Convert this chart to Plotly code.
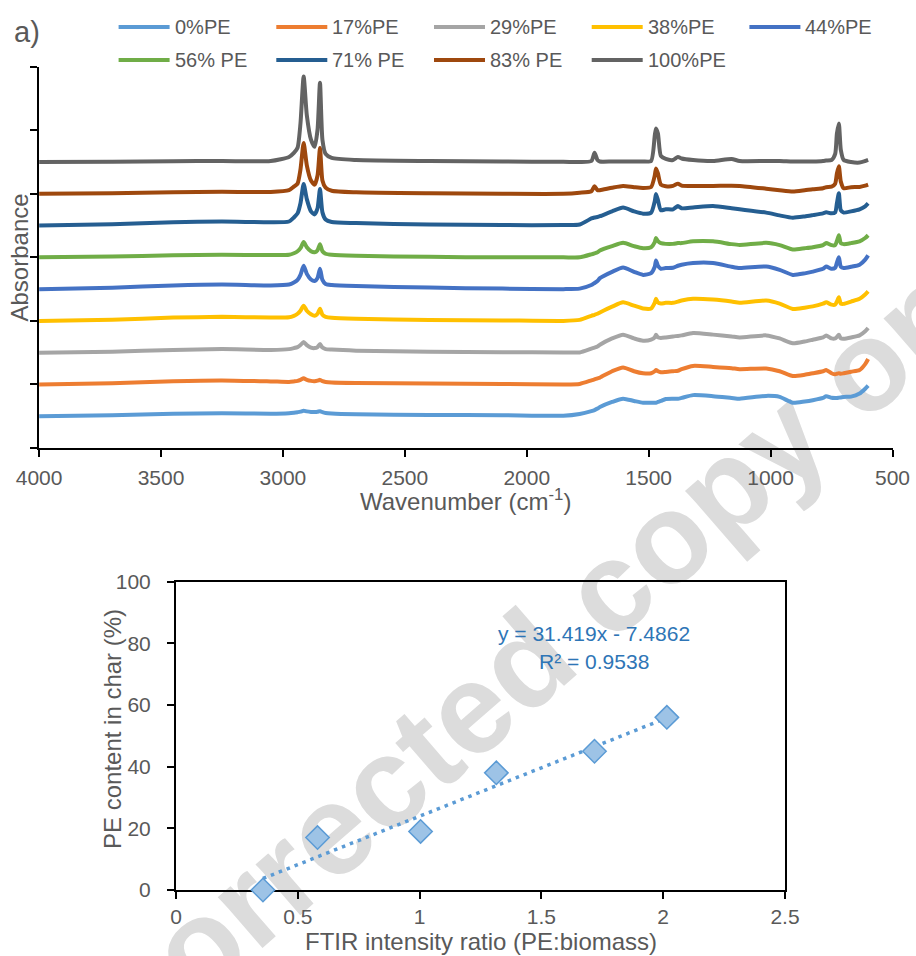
import plotly.graph_objects as go

# ---------------- data: FTIR spectra (panel a) ----------------
WAVENUMBER = [4000, 3700, 3450, 3250, 3050, 2975, 2955, 2940, 2928, 2915,
              2902, 2885, 2870, 2858, 2848, 2838, 2825, 2800, 2700, 2400,
              2100, 1850, 1783, 1735, 1722, 1710, 1700, 1650, 1605, 1560,
              1523, 1490, 1475, 1470, 1462, 1450, 1430, 1400, 1380, 1365,
              1318, 1236, 1160, 1127, 1018, 963, 909, 860, 827, 785,
              772, 750, 735, 728, 720, 712, 700, 670, 635, 612,
              600]

SERIES_NAMES = ["0%PE", "17%PE", "29%PE", "38%PE", "44%PE",
                "56% PE", "71% PE", "83% PE", "100%PE"]

ABS_0 = [0.000, 0.007, 0.019, 0.024, 0.020, 0.024, 0.028, 0.032, 0.036, 0.044,
         0.038, 0.034, 0.034, 0.036, 0.040, 0.032, 0.026, 0.022, 0.016, 0.010,
         0.008, 0.004, 0.018, 0.040, 0.048, 0.060, 0.072, 0.112, 0.138, 0.120,
         0.106, 0.106, 0.106, 0.106, 0.112, 0.120, 0.136, 0.138, 0.138, 0.144,
         0.166, 0.158, 0.144, 0.138, 0.160, 0.152, 0.106, 0.116, 0.126, 0.144,
         0.158, 0.146, 0.144, 0.144, 0.146, 0.148, 0.152, 0.154, 0.178, 0.216,
         0.240]
ABS_17 = [0.000, 0.010, 0.026, 0.032, 0.024, 0.020, 0.024, 0.028, 0.036, 0.048,
          0.036, 0.028, 0.026, 0.030, 0.036, 0.026, 0.020, 0.016, 0.012, 0.008,
          0.004, 0.000, 0.004, 0.032, 0.040, 0.048, 0.054, 0.104, 0.134, 0.104,
          0.088, 0.088, 0.104, 0.114, 0.104, 0.096, 0.098, 0.104, 0.108, 0.120,
          0.146, 0.138, 0.128, 0.120, 0.126, 0.104, 0.066, 0.076, 0.088, 0.104,
          0.114, 0.088, 0.080, 0.084, 0.088, 0.084, 0.088, 0.100, 0.114, 0.160,
          0.200]
ABS_29 = [0.000, 0.008, 0.022, 0.028, 0.022, 0.028, 0.036, 0.044, 0.060, 0.084,
          0.060, 0.040, 0.036, 0.044, 0.068, 0.040, 0.028, 0.024, 0.016, 0.008,
          0.004, 0.002, 0.002, 0.032, 0.040, 0.048, 0.062, 0.112, 0.142, 0.112,
          0.094, 0.102, 0.120, 0.142, 0.120, 0.116, 0.120, 0.128, 0.132, 0.136,
          0.154, 0.142, 0.128, 0.120, 0.136, 0.112, 0.074, 0.088, 0.102, 0.120,
          0.136, 0.112, 0.112, 0.124, 0.142, 0.112, 0.110, 0.120, 0.136, 0.168,
          0.194]
ABS_38 = [0.000, 0.010, 0.026, 0.032, 0.026, 0.028, 0.040, 0.056, 0.080, 0.120,
          0.080, 0.052, 0.040, 0.056, 0.096, 0.048, 0.032, 0.024, 0.016, 0.008,
          0.004, 0.000, 0.008, 0.040, 0.048, 0.056, 0.066, 0.112, 0.146, 0.120,
          0.098, 0.098, 0.144, 0.174, 0.144, 0.136, 0.142, 0.142, 0.152, 0.160,
          0.174, 0.168, 0.152, 0.142, 0.160, 0.136, 0.094, 0.104, 0.114, 0.136,
          0.146, 0.128, 0.128, 0.152, 0.186, 0.136, 0.134, 0.152, 0.174, 0.208,
          0.232]
ABS_44 = [0.000, 0.011, 0.029, 0.036, 0.029, 0.036, 0.052, 0.072, 0.112, 0.184,
          0.120, 0.076, 0.064, 0.088, 0.160, 0.072, 0.040, 0.032, 0.024, 0.012,
          0.004, 0.000, 0.004, 0.032, 0.048, 0.064, 0.086, 0.136, 0.170, 0.136,
          0.112, 0.126, 0.176, 0.226, 0.184, 0.160, 0.166, 0.168, 0.184, 0.192,
          0.206, 0.206, 0.176, 0.166, 0.178, 0.152, 0.112, 0.124, 0.138, 0.160,
          0.178, 0.160, 0.168, 0.208, 0.250, 0.176, 0.166, 0.176, 0.192, 0.232,
          0.266]
ABS_56 = [0.000, 0.006, 0.016, 0.020, 0.018, 0.020, 0.032, 0.048, 0.072, 0.120,
          0.080, 0.048, 0.040, 0.056, 0.104, 0.048, 0.028, 0.020, 0.012, 0.004,
          0.000, 0.000, 0.000, 0.024, 0.032, 0.040, 0.054, 0.088, 0.114, 0.088,
          0.072, 0.080, 0.120, 0.152, 0.128, 0.112, 0.106, 0.106, 0.112, 0.112,
          0.126, 0.126, 0.104, 0.098, 0.114, 0.096, 0.062, 0.072, 0.080, 0.096,
          0.112, 0.096, 0.096, 0.128, 0.174, 0.112, 0.104, 0.112, 0.126, 0.152,
          0.174]
ABS_71 = [0.000, 0.010, 0.026, 0.032, 0.026, 0.032, 0.064, 0.096, 0.176, 0.328,
          0.208, 0.112, 0.088, 0.136, 0.288, 0.104, 0.048, 0.028, 0.020, 0.008,
          0.004, 0.004, 0.008, 0.056, 0.064, 0.068, 0.074, 0.112, 0.142, 0.112,
          0.094, 0.102, 0.192, 0.248, 0.200, 0.120, 0.128, 0.128, 0.154, 0.136,
          0.142, 0.154, 0.136, 0.128, 0.102, 0.080, 0.062, 0.072, 0.082, 0.096,
          0.104, 0.096, 0.104, 0.176, 0.254, 0.120, 0.102, 0.112, 0.128, 0.152,
          0.174]
ABS_83 = [0.000, 0.005, 0.013, 0.016, 0.014, 0.028, 0.056, 0.080, 0.192, 0.400,
          0.224, 0.104, 0.072, 0.144, 0.360, 0.104, 0.048, 0.024, 0.012, 0.004,
          0.000, 0.000, 0.008, 0.020, 0.060, 0.028, 0.028, 0.048, 0.062, 0.052,
          0.046, 0.054, 0.144, 0.200, 0.160, 0.072, 0.060, 0.062, 0.080, 0.064,
          0.062, 0.062, 0.064, 0.062, 0.040, 0.028, 0.018, 0.028, 0.036, 0.044,
          0.052, 0.056, 0.080, 0.160, 0.216, 0.096, 0.044, 0.052, 0.054, 0.064,
          0.072]
ABS_100 = [0.000, 0.002, 0.006, 0.008, 0.008, 0.040, 0.072, 0.112, 0.304, 0.672,
           0.368, 0.176, 0.120, 0.256, 0.624, 0.176, 0.064, 0.032, 0.016, 0.008,
           0.004, 0.002, 0.000, 0.008, 0.072, 0.016, 0.004, 0.004, 0.004, 0.004,
           0.004, 0.008, 0.208, 0.264, 0.224, 0.048, 0.024, 0.016, 0.040, 0.028,
           0.016, 0.008, 0.024, 0.008, 0.008, 0.008, 0.004, 0.004, 0.004, 0.008,
           0.012, 0.016, 0.064, 0.224, 0.304, 0.096, 0.016, 0.000, -0.004, 0.008,
           0.016]

SPECTRA = [ABS_0, ABS_17, ABS_29, ABS_38, ABS_44, ABS_56, ABS_71, ABS_83, ABS_100]
STACK_STEP = 0.25   # vertical offset between stacked spectra

X_TICKS_TOP = [4000, 3500, 3000, 2500, 2000, 1500, 1000, 500]

# ---------------- data: calibration (panel b) ----------------
RATIO = [0.357, 0.581, 1.004, 1.315, 1.718, 2.015]
PE_CONTENT = [0, 17, 19, 38, 45, 56]
FIT_SLOPE = 31.419
FIT_INTERCEPT = -7.4862
FIT_R2 = 0.9538

# ---------------- styling ----------------
COLORS = ["#5B9BD5", "#ED7D31", "#A5A5A5", "#FFC000", "#4472C4",
          "#70AD47", "#255E91", "#9E480E", "#636363"]
FONT = "Liberation Sans, Arial, sans-serif"
GREY = "#595959"
W, H = 916, 956


def px(x):
    return x / W


def py(y):
    return 1 - y / H


fig = go.Figure()

for i, (name, vals, color) in enumerate(zip(SERIES_NAMES, SPECTRA, COLORS)):
    fig.add_trace(go.Scatter(
        x=WAVENUMBER, y=[v + STACK_STEP * (i + 1) for v in vals],
        mode="lines", name=name, showlegend=False,
        line=dict(color=color, width=4, shape="spline", smoothing=0.6),
        xaxis="x", yaxis="y", hoverinfo="skip"))

trend_x = [min(RATIO), max(RATIO)]
trend_y = [FIT_SLOPE * x + FIT_INTERCEPT for x in trend_x]
fig.add_trace(go.Scatter(
    x=trend_x, y=trend_y, mode="lines", showlegend=False,
    line=dict(color="#5B9BD5", width=3.5, dash="3.5px,5px"),
    xaxis="x2", yaxis="y2"))
fig.add_trace(go.Scatter(
    x=RATIO, y=PE_CONTENT, mode="markers", showlegend=False, cliponaxis=False,
    marker=dict(symbol="diamond", size=18, color="#9DC3E6",
                line=dict(color="#5B9BD5", width=1.5)),
    xaxis="x2", yaxis="y2"))

axis_common = dict(showline=True, linecolor="black", linewidth=2,
                   ticks="outside", ticklen=7, tickwidth=2, tickcolor="black",
                   showgrid=False, zeroline=False, automargin=False,
                   tickfont=dict(family=FONT, size=21, color=GREY))

fig.update_layout(
    width=W, height=H, autosize=False,
    margin=dict(l=0, r=0, t=0, b=0),
    paper_bgcolor="white", plot_bgcolor="rgba(0,0,0,0)",
    font=dict(family=FONT, color=GREY),
    xaxis=dict(domain=[px(39.1), px(892.5)], range=[4000, 500],
               tickvals=X_TICKS_TOP, anchor="y", ticklabelstandoff=3,
               **axis_common),
    yaxis=dict(domain=[py(448), py(66.7)], range=[0, 3], dtick=0.5,
               showticklabels=False, anchor="x", **axis_common),
    xaxis2=dict(domain=[px(176), px(785)], range=[0, 2.5], dtick=0.5,
                anchor="y2", mirror=True, layer="below traces",
                ticklabelstandoff=0, **axis_common),
    yaxis2=dict(domain=[py(890), py(581.7)], range=[0, 100], dtick=20,
                anchor="x2", mirror=True, layer="below traces",
                ticklabelstandoff=12, **axis_common),
)

annotations = []
shapes = []

# axis titles
title_font = dict(family=FONT, size=24, color=GREY)
annotations += [
    dict(text="Wavenumber (cm<sup>-1</sup>)", xref="paper", yref="paper",
         x=px(465.8), y=py(500), xanchor="center", yanchor="middle",
         showarrow=False, font=title_font),
    dict(text="Absorbance", xref="paper", yref="paper", x=px(19), y=py(257.5),
         xanchor="center", yanchor="middle", textangle=-90,
         showarrow=False, font=title_font),
    dict(text="FTIR intensity ratio (PE:biomass)", xref="paper", yref="paper",
         x=px(480.5), y=py(941), xanchor="center", yanchor="middle",
         showarrow=False, font=title_font),
    dict(text="PE content in char (%)", xref="paper", yref="paper",
         x=px(112), y=py(729), xanchor="center", yanchor="middle",
         textangle=-90, showarrow=False, font=title_font),
]

# legend drawn as line samples + labels (two rows, fixed column pitch)
for k, (name, color) in enumerate(zip(SERIES_NAMES, COLORS)):
    row, col = divmod(k, 5)
    yc = 27 if row == 0 else 60
    x0 = 118.6 + 157.7 * col
    shapes.append(dict(type="line", xref="paper", yref="paper",
                       x0=px(x0), x1=px(x0 + 51), y0=py(yc), y1=py(yc),
                       line=dict(color=color, width=4)))
    annotations.append(dict(text=name, xref="paper", yref="paper",
                            x=px(x0 + 54), y=py(yc), xanchor="left",
                            yanchor="middle", showarrow=False,
                            font=dict(family=FONT, size=20, color=GREY)))

annotations.append(dict(text="a)", xref="paper", yref="paper", x=px(27), y=py(32),
                        xanchor="center", yanchor="middle", showarrow=False,
                        font=dict(family=FONT, size=29, color=GREY)))

annotations.append(dict(text=f"y = {FIT_SLOPE}x - {abs(FIT_INTERCEPT)}",
                        xref="paper", yref="paper", x=px(594), y=py(633),
                        xanchor="center", yanchor="middle", showarrow=False,
                        font=dict(family=FONT, size=21, color="#2E75B6")))
annotations.append(dict(text=f"R² = {FIT_R2}",
                        xref="paper", yref="paper", x=px(594), y=py(661.5),
                        xanchor="center", yanchor="middle", showarrow=False,
                        font=dict(family=FONT, size=21, color="#2E75B6")))

# watermark, drawn beneath the data
shapes.append(dict(type="rect", xref="paper", yref="paper", layer="below",
                   x0=px(545), x1=px(585), y0=py(630), y1=py(590),
                   line=dict(width=0), fillcolor="rgba(0,0,0,0)",
                   label=dict(text="corrected copy only", textangle=-41,
                              textposition="middle center",
                              font=dict(family=FONT, size=128, color="#DCDCDC",
                                        weight="bold"))))

fig.update_layout(annotations=annotations, shapes=shapes)

fig.write_html("out.html",
               config={"displayModeBar": False},
               post_script="document.body.style.margin='0';"
                           "document.body.style.overflow='hidden';")
